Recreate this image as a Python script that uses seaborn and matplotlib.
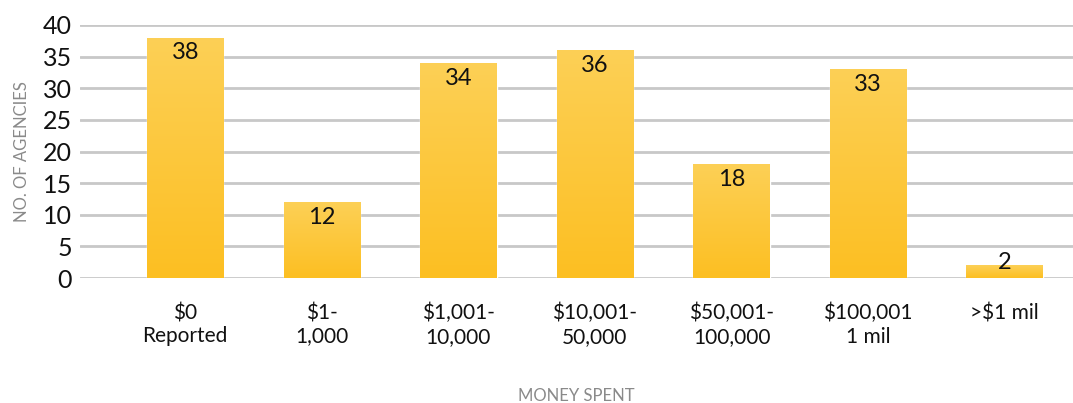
import numpy as np
import pandas as pd
import seaborn as sns
import matplotlib.pyplot as plt
from matplotlib.colors import LinearSegmentedColormap

# -------------------------------
# Data
# -------------------------------
categories = ["$0\nReported", "$1-\n1,000", "$1,001-\n10,000", "$10,001-\n50,000",
              "$50,001-\n100,000", "$100,001\n1 mil", ">$1 mil"]
agencies = [38, 12, 34, 36, 18, 33, 2]
y_ticks = [0, 5, 10, 15, 20, 25, 30, 35, 40]

df = pd.DataFrame({"spent": categories, "agencies": agencies})

# -------------------------------
# Style
# -------------------------------
sns.set_style("white")
plt.rcParams["font.family"] = ["Lato", "DejaVu Sans"]

fig = plt.figure(figsize=(10.73, 4.03), dpi=100)
ax = fig.add_axes([0.0746, 0.31, 0.9254, 0.628])

sns.barplot(data=df, x="spent", y="agencies", color="#FDC52E", width=0.56,
            saturation=1, ax=ax, zorder=3)

# vertical gradient inside each bar (light top -> darker bottom)
grad_cmap = LinearSegmentedColormap.from_list("bar_grad", ["#FCBF22", "#FDD056"])
grad = np.linspace(0, 1, 256).reshape(-1, 1)
for patch in ax.patches:
    x0, y0 = patch.get_x(), patch.get_y()
    w, h = patch.get_width(), patch.get_height()
    patch.set_facecolor("none")
    im = ax.imshow(grad, cmap=grad_cmap, origin="lower", aspect="auto",
                   extent=[x0, x0 + w, y0, y0 + h], zorder=3)
    im.set_clip_path(patch)

# value labels
for i, v in enumerate(agencies):
    y = v - 2.4 if v >= 5 else v + 0.5
    ax.text(i, y, str(v), ha="center", va="center", fontsize=17, color="#111111", zorder=5)

ax.set_xlim(-0.77, 6.5)
ax.set_ylim(0, 40)
ax.set_yticks(y_ticks)
ax.yaxis.grid(True, color="#c8c8c8", linewidth=2, zorder=0)
ax.set_axisbelow(True)

for s in ax.spines.values():
    s.set_visible(False)

ax.tick_params(axis="y", length=0, pad=6, labelsize=18, labelcolor="#111111")
ax.tick_params(axis="x", length=0, pad=18, labelsize=15, labelcolor="#111111")
for lbl in ax.get_xticklabels():
    lbl.set_linespacing(1.2)

ax.set_xlabel("MONEY SPENT", fontsize=12, color="#8a8a8a", labelpad=30)
ax.set_ylabel("NO. OF AGENCIES", fontsize=12, color="#8a8a8a", labelpad=9)

fig.savefig("out.png", dpi=100)
